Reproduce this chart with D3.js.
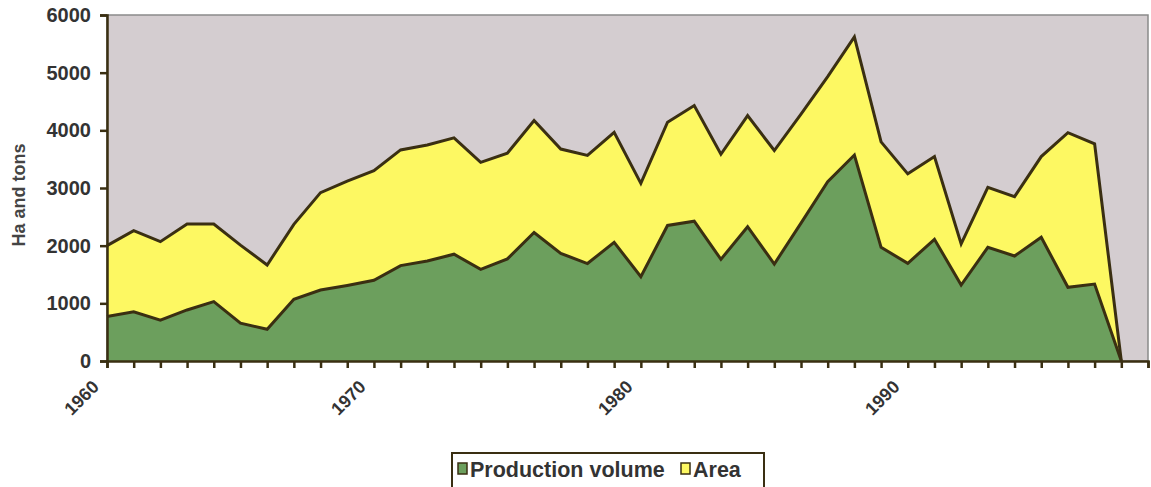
<!DOCTYPE html>
<html>
<head>
<meta charset="utf-8">
<script src="https://cdn.jsdelivr.net/npm/d3@7"></script>
<style>
  html, body { margin: 0; padding: 0; background: #ffffff; }
  svg { display: block; }
  text { font-family: "Liberation Sans", Arial, sans-serif; }
</style>
</head>
<body>
<svg id="chart" width="1151" height="487"></svg>
<script>
const years = d3.range(1960, 1999);
const areaValues = [2000, 2260, 2070, 2375, 2375, 2010, 1665, 2370, 2920, 3120,
  3300, 3660, 3745, 3870, 3445, 3605, 4170, 3675, 3565, 3965,
  3080, 4140, 4430, 3585, 4255, 3650, 4280, 4930, 5620, 3800,
  3245, 3545, 2030, 3010, 2850, 3545, 3960, 3765, 0];
const productionValues = [770, 855, 710, 885, 1030, 655, 550, 1070, 1230, 1310,
  1400, 1655, 1735, 1852, 1590, 1770, 2228, 1867, 1690, 2058,
  1462, 2350, 2425, 1763, 2329, 1682, 2390, 3110, 3572, 1971,
  1694, 2110, 1318, 1971, 1821, 2145, 1278, 1335, 0];
const yTicks = [0, 1000, 2000, 3000, 4000, 5000, 6000];
const xLabelYears = [1960, 1970, 1980, 1990];
const seriesNames = ["Production volume", "Area"];

const svg = d3.select("#chart");
const mLeft = 107, mRight = 1148, mTop = 15, mBottom = 361;
const x = d3.scaleLinear().domain([1960, 1999]).range([mLeft, mRight]);
const y = d3.scaleLinear().domain([0, 6000]).range([mBottom, mTop]);

const colBg = "#d4cdd0", colYellow = "#fdf862", colGreen = "#6c9f5d", colLine = "#3a2f12";

// plot background
svg.append("rect").attr("x", mLeft).attr("y", mTop)
  .attr("width", mRight - mLeft).attr("height", mBottom - mTop)
  .attr("fill", colBg).attr("stroke", "#8a8a8a").attr("stroke-width", 1.5);

const areaData = years.map((yr, i) => ({ yr, v: areaValues[i] }));
const prodData = years.map((yr, i) => ({ yr, v: productionValues[i] }));

const areaGen = d3.area().x(d => x(d.yr)).y0(y(0)).y1(d => y(d.v));
const lineGen = d3.line().x(d => x(d.yr)).y(d => y(d.v));

svg.append("path").datum(areaData).attr("d", areaGen).attr("fill", colYellow);
svg.append("path").datum(areaData).attr("d", lineGen).attr("fill", "none")
  .attr("stroke", colLine).attr("stroke-width", 3).attr("stroke-linejoin", "miter");
svg.append("path").datum(prodData).attr("d", areaGen).attr("fill", colGreen);
svg.append("path").datum(prodData).attr("d", lineGen).attr("fill", "none")
  .attr("stroke", colLine).attr("stroke-width", 3).attr("stroke-linejoin", "miter");

// Y axis
const yAxis = svg.append("g").attr("transform", `translate(${mLeft},0)`)
  .call(d3.axisLeft(y).tickValues(yTicks).tickSize(7).tickPadding(9).tickFormat(d3.format("d")));
yAxis.select(".domain").attr("stroke", colLine).attr("stroke-width", 2.5);
yAxis.selectAll(".tick line").attr("stroke", colLine).attr("stroke-width", 2.5);
yAxis.selectAll(".tick text").attr("font-size", 20).attr("font-weight", "bold")
  .attr("fill", "#333333").attr("font-family", "'Liberation Sans', Arial, sans-serif");

// X axis
const xAxis = svg.append("g").attr("transform", `translate(0,${mBottom})`)
  .call(d3.axisBottom(x).tickValues(d3.range(1960, 2000)).tickSize(7).tickFormat(""));
xAxis.select(".domain").attr("stroke", colLine).attr("stroke-width", 2.5);
xAxis.selectAll(".tick line").attr("stroke", colLine).attr("stroke-width", 2.5);

svg.append("g").selectAll("text").data(xLabelYears).join("text")
  .attr("transform", d => `translate(${x(d) - 7},${mBottom + 27}) rotate(-45)`)
  .attr("text-anchor", "end")
  .attr("font-size", 18).attr("font-weight", "bold").attr("fill", "#333333")
  .text(d => d);

// Y title
svg.append("text")
  .attr("transform", `translate(25,195) rotate(-90)`)
  .attr("text-anchor", "middle")
  .attr("font-size", 18).attr("font-weight", "bold").attr("fill", "#444444")
  .text("Ha and tons");

// Legend
const lg = svg.append("g");
lg.append("rect").attr("x", 452).attr("y", 453).attr("width", 312).attr("height", 45)
  .attr("fill", "#ffffff").attr("stroke", colLine).attr("stroke-width", 2);
const legendItems = [
  { name: seriesNames[0], color: colGreen, sx: 458, tx: 470 },
  { name: seriesNames[1], color: colYellow, sx: 681, tx: 693 }
];
legendItems.forEach(it => {
  lg.append("rect").attr("x", it.sx).attr("y", 463).attr("width", 9).attr("height", 11)
    .attr("fill", it.color).attr("stroke", colLine).attr("stroke-width", 1.5);
  lg.append("text").attr("x", it.tx).attr("y", 477)
    .attr("font-size", 21.5).attr("font-weight", "bold").attr("fill", "#333333")
    .text(it.name);
});
</script>
</body>
</html>
